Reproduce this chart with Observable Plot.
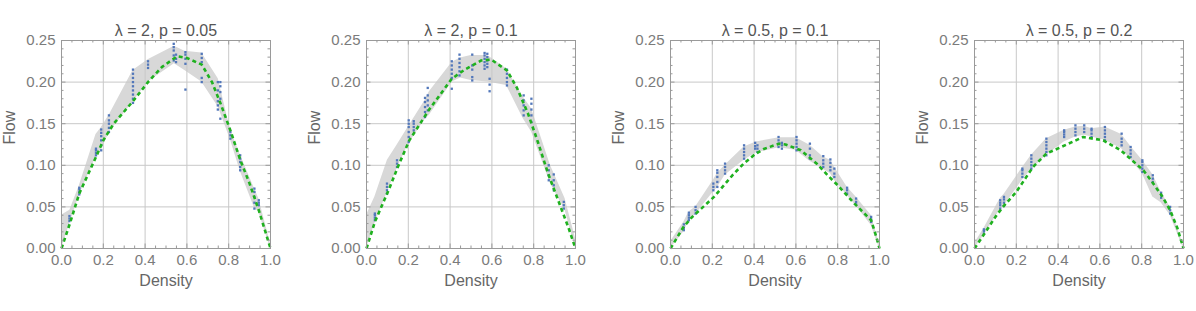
<!DOCTYPE html>
<html>
<head>
<meta charset="utf-8">
<script src="https://cdn.jsdelivr.net/npm/d3@7"></script>
<script src="https://cdn.jsdelivr.net/npm/@observablehq/plot@0.6"></script>
<style>
  html, body { margin: 0; padding: 0; background: #fff; overflow: hidden; }
  #wrap { position: relative; width: 1196px; height: 311px; }
  .panel { position: absolute; top: 0; }
  svg { overflow: visible; }
</style>
</head>
<body>
<div id="wrap"></div>
<script>
// ---------- tick values ----------
const xTicks = [0, 0.2, 0.4, 0.6, 0.8, 1.0];
const yTicks = [0, 0.05, 0.10, 0.15, 0.20, 0.25];
const xGrid = [0.2, 0.4, 0.6, 0.8];
const yGrid = [0.05, 0.10, 0.15, 0.20];
const xMinor = [0.05, 0.1, 0.15, 0.25, 0.3, 0.35, 0.45, 0.5, 0.55, 0.65, 0.7, 0.75, 0.85, 0.9, 0.95];
const yMinor = [0.01, 0.02, 0.03, 0.04, 0.06, 0.07, 0.08, 0.09, 0.11, 0.12, 0.13, 0.14, 0.16, 0.17, 0.18, 0.19, 0.21, 0.22, 0.23, 0.24];
const titles = ["λ = 2, p = 0.05", "λ = 2, p = 0.1", "λ = 0.5, p = 0.1", "λ = 0.5, p = 0.2"];
const xLabel = "Density";
const yLabel = "Flow";

// ---------- panel 1: λ = 2, p = 0.05 ----------
const band1X  = [0, 0.04, 0.085, 0.165, 0.19, 0.23, 0.342, 0.414, 0.54, 0.59, 0.671, 0.75, 0.808, 0.855, 0.923, 0.944, 1.0];
const band1Lo = [0, 0.03, 0.064, 0.11, 0.118, 0.14, 0.176, 0.2, 0.222, 0.214, 0.2, 0.17, 0.131, 0.093, 0.049, 0.044, 0];
const band1Hi = [0.04, 0.046, 0.075, 0.137, 0.145, 0.161, 0.214, 0.227, 0.243, 0.237, 0.235, 0.204, 0.143, 0.113, 0.072, 0.06, 0.006];
const pts1 = [
  [0.038, [0.033, 0.036, 0.039]],
  [0.085, [0.065, 0.068, 0.071, 0.073]],
  [0.165, [0.112, 0.115, 0.118, 0.12]],
  [0.19,  [0.118, 0.124, 0.13, 0.135, 0.139, 0.143]],
  [0.227, [0.14, 0.145, 0.15, 0.154, 0.16]],
  [0.342, [0.175, 0.18, 0.185, 0.19, 0.195, 0.2, 0.205, 0.21, 0.215]],
  [0.414, [0.217, 0.221, 0.225]],
  [0.537, [0.226, 0.232, 0.238, 0.242, 0.246]],
  [0.548, [0.224, 0.228, 0.233]],
  [0.593, [0.191, 0.222, 0.228, 0.233, 0.236]],
  [0.671, [0.2, 0.205, 0.224, 0.229, 0.234]],
  [0.748, [0.167, 0.172, 0.177, 0.19, 0.2]],
  [0.76,  [0.156, 0.18, 0.188, 0.195, 0.2]],
  [0.808, [0.132, 0.136, 0.14]],
  [0.855, [0.094, 0.098, 0.104, 0.108, 0.112]],
  [0.923, [0.048, 0.055, 0.062, 0.068, 0.072]],
  [0.944, [0.052, 0.055, 0.058]]
];
const fit1X = [0, 0.04, 0.085, 0.165, 0.2, 0.25, 0.342, 0.414, 0.48, 0.553, 0.6, 0.671, 0.72, 0.76, 0.808, 0.856, 0.9, 0.944, 1.0];
const fit1Y = [0, 0.03, 0.066, 0.11, 0.13, 0.15, 0.177, 0.2, 0.218, 0.231, 0.229, 0.221, 0.2, 0.175, 0.142, 0.106, 0.078, 0.046, 0];

// ---------- panel 2: λ = 2, p = 0.1 ----------
const band2X  = [0, 0.04, 0.1, 0.146, 0.2, 0.28, 0.3, 0.41, 0.45, 0.5, 0.58, 0.67, 0.75, 0.79, 0.88, 0.95, 1.0];
const band2Lo = [0, 0.03, 0.068, 0.096, 0.125, 0.155, 0.16, 0.2, 0.205, 0.202, 0.2, 0.196, 0.156, 0.14, 0.078, 0.046, 0];
const band2Hi = [0.04, 0.062, 0.106, 0.124, 0.146, 0.178, 0.188, 0.224, 0.229, 0.232, 0.232, 0.216, 0.182, 0.168, 0.1, 0.06, 0.012];
const pts2 = [
  [0.04,  [0.034, 0.037, 0.04, 0.042]],
  [0.098, [0.066, 0.07, 0.074, 0.078]],
  [0.146, [0.098, 0.102, 0.106]],
  [0.202, [0.128, 0.134, 0.14, 0.146, 0.15, 0.154]],
  [0.226, [0.142, 0.146, 0.15, 0.153]],
  [0.28,  [0.158, 0.164, 0.17, 0.176, 0.181]],
  [0.293, [0.166, 0.172, 0.178, 0.184, 0.193]],
  [0.408, [0.192, 0.205, 0.21, 0.215, 0.22, 0.225]],
  [0.445, [0.208, 0.213, 0.218, 0.223, 0.228, 0.233]],
  [0.506, [0.202, 0.206, 0.215, 0.22, 0.233]],
  [0.565, [0.216, 0.22, 0.224, 0.228, 0.232, 0.235]],
  [0.578, [0.218, 0.222, 0.226, 0.23, 0.234]],
  [0.589, [0.189, 0.197, 0.204]],
  [0.672, [0.196, 0.2, 0.205, 0.21, 0.215]],
  [0.752, [0.16, 0.166, 0.172, 0.178, 0.184]],
  [0.789, [0.152, 0.16, 0.167, 0.174, 0.18]],
  [0.872, [0.082, 0.088, 0.094, 0.1]],
  [0.896, [0.07, 0.076, 0.082, 0.089]],
  [0.944, [0.048, 0.052, 0.056]]
];
const fit2X = [0, 0.04, 0.109, 0.15, 0.205, 0.3, 0.408, 0.47, 0.549, 0.597, 0.672, 0.72, 0.773, 0.82, 0.869, 0.917, 0.965, 1.0];
const fit2Y = [0, 0.032, 0.072, 0.098, 0.13, 0.167, 0.204, 0.215, 0.226, 0.227, 0.214, 0.193, 0.162, 0.128, 0.09, 0.058, 0.026, 0];

// ---------- panel 3: λ = 0.5, p = 0.1 ----------
const band3X  = [0, 0.064, 0.088, 0.12, 0.205, 0.224, 0.261, 0.352, 0.41, 0.52, 0.6, 0.667, 0.731, 0.765, 0.784, 0.845, 0.888, 0.96, 1.0];
const band3Lo = [0, 0.02, 0.033, 0.041, 0.068, 0.073, 0.088, 0.106, 0.115, 0.121, 0.118, 0.105, 0.095, 0.09, 0.082, 0.064, 0.051, 0.028, 0];
const band3Hi = [0.008, 0.032, 0.044, 0.05, 0.082, 0.09, 0.1, 0.122, 0.128, 0.133, 0.133, 0.124, 0.11, 0.106, 0.098, 0.074, 0.062, 0.04, 0.005];
const pts3 = [
  [0.064, [0.022, 0.025, 0.029]],
  [0.088, [0.034, 0.037, 0.04, 0.043]],
  [0.12,  [0.042, 0.046, 0.05]],
  [0.205, [0.07, 0.074, 0.078]],
  [0.224, [0.074, 0.08, 0.086, 0.091, 0.094]],
  [0.261, [0.09, 0.094, 0.098, 0.102]],
  [0.352, [0.108, 0.112, 0.116, 0.12, 0.124]],
  [0.405, [0.12, 0.123, 0.127]],
  [0.416, [0.116, 0.12, 0.124]],
  [0.517, [0.122, 0.126, 0.13, 0.134]],
  [0.533, [0.12, 0.124, 0.127]],
  [0.603, [0.118, 0.122, 0.126, 0.13, 0.134]],
  [0.667, [0.108, 0.112, 0.12, 0.126]],
  [0.731, [0.098, 0.102, 0.106, 0.111]],
  [0.765, [0.094, 0.098, 0.103, 0.107]],
  [0.784, [0.086, 0.09, 0.096]],
  [0.845, [0.066, 0.07, 0.073]],
  [0.888, [0.053, 0.056, 0.06]],
  [0.96,  [0.032, 0.035, 0.038]]
];
const fit3X = [0, 0.06, 0.1, 0.208, 0.3, 0.35, 0.408, 0.45, 0.52, 0.55, 0.624, 0.7, 0.752, 0.8, 0.88, 0.96, 0.98, 1.0];
const fit3Y = [0, 0.025, 0.037, 0.062, 0.089, 0.102, 0.114, 0.12, 0.126, 0.125, 0.118, 0.102, 0.088, 0.076, 0.054, 0.034, 0.018, 0];

// ---------- panel 4: λ = 0.5, p = 0.2 ----------
const band4X  = [0, 0.045, 0.123, 0.141, 0.229, 0.272, 0.344, 0.429, 0.483, 0.525, 0.56, 0.624, 0.704, 0.747, 0.803, 0.853, 0.893, 0.936, 1.0];
const band4Lo = [0, 0.016, 0.047, 0.051, 0.082, 0.095, 0.112, 0.128, 0.134, 0.136, 0.134, 0.13, 0.12, 0.107, 0.09, 0.062, 0.055, 0.04, 0];
const band4Hi = [0.006, 0.024, 0.06, 0.065, 0.097, 0.112, 0.132, 0.142, 0.146, 0.147, 0.144, 0.146, 0.137, 0.123, 0.106, 0.089, 0.068, 0.05, 0.004];
const pts4 = [
  [0.045, [0.018, 0.021, 0.023]],
  [0.123, [0.048, 0.052, 0.055, 0.058]],
  [0.141, [0.051, 0.055, 0.059, 0.062]],
  [0.229, [0.086, 0.09, 0.094, 0.096]],
  [0.272, [0.096, 0.1, 0.104, 0.108, 0.112]],
  [0.344, [0.112, 0.116, 0.12, 0.124, 0.128, 0.132]],
  [0.429, [0.134, 0.137, 0.14, 0.142]],
  [0.483, [0.136, 0.14, 0.144, 0.148]],
  [0.525, [0.14, 0.144, 0.148]],
  [0.56,  [0.134, 0.138, 0.142, 0.144]],
  [0.624, [0.13, 0.134, 0.138, 0.142, 0.146]],
  [0.704, [0.124, 0.128, 0.132, 0.138]],
  [0.747, [0.11, 0.114, 0.118, 0.122]],
  [0.803, [0.092, 0.096, 0.1, 0.104, 0.106]],
  [0.853, [0.08, 0.084, 0.088]],
  [0.893, [0.061, 0.064, 0.067]],
  [0.936, [0.042, 0.046, 0.05]]
];
const fit4X = [0, 0.048, 0.1, 0.136, 0.2, 0.28, 0.344, 0.45, 0.52, 0.616, 0.7, 0.808, 0.85, 0.9, 0.936, 0.97, 1.0];
const fit4Y = [0, 0.018, 0.038, 0.05, 0.068, 0.098, 0.114, 0.126, 0.134, 0.13, 0.118, 0.094, 0.08, 0.062, 0.046, 0.025, 0];

// ---------- assemble ----------
const panels = [
  {bx: band1X, lo: band1Lo, hi: band1Hi, pts: pts1, fx: fit1X, fy: fit1Y},
  {bx: band2X, lo: band2Lo, hi: band2Hi, pts: pts2, fx: fit2X, fy: fit2Y},
  {bx: band3X, lo: band3Lo, hi: band3Hi, pts: pts3, fx: fit3X, fy: fit3Y},
  {bx: band4X, lo: band4Lo, hi: band4Hi, pts: pts4, fx: fit4X, fy: fit4Y}
];
const lefts = [0, 305, 609, 913];

const mL = 61, mR = 12, mT = 40, mB = 63, W = 282, H = 311;
const iW = W - mL - mR, iH = H - mT - mB;
const font = "'Liberation Sans', Arial, sans-serif";
const frameColor = "#9a9a9a";
const tickTextColor = "#7b7b7b";
const labelColor = "#666";

panels.forEach((p, i) => {
  const band = p.bx.map((x, j) => ({x, lo: p.lo[j], hi: p.hi[j]}));
  const dots = p.pts.flatMap(([x, ys]) => ys.map(y => ({x, y})));
  const fit = p.fx.map((x, j) => ({x, y: p.fy[j]}));
  const chart = Plot.plot({
    width: W, height: H,
    marginLeft: mL, marginRight: mR, marginTop: mT, marginBottom: mB,
    style: {fontFamily: font, background: "transparent", overflow: "visible"},
    x: {domain: [0, 1]},
    y: {domain: [0, 0.25]},
    marks: [
      Plot.areaY(band, {x: "x", y1: "lo", y2: "hi", fill: "#d8d8d8"}),
      Plot.gridX(xGrid, {stroke: "#c8c8c8", strokeOpacity: 1, strokeWidth: 1}),
      Plot.gridY(yGrid, {stroke: "#c8c8c8", strokeOpacity: 1, strokeWidth: 1}),
      Plot.dot(dots, {x: "x", y: "y", r: 1.3, symbol: "square", fill: "#5277ba", stroke: null}),
      Plot.line(fit, {x: "x", y: "y", stroke: "#1fb11f", strokeWidth: 2.6, strokeDasharray: "4,3.2", strokeLinecap: "butt"}),
      Plot.frame({stroke: frameColor, strokeWidth: 1}),
      // inward ticks on all four sides
      Plot.tickX(xMinor, {x: d => d, insetTop: iH - 2.5, stroke: frameColor}),
      Plot.tickX(xMinor, {x: d => d, insetBottom: iH - 2.5, stroke: frameColor}),
      Plot.tickX(xTicks, {x: d => d, insetTop: iH - 4.5, stroke: frameColor}),
      Plot.tickX(xTicks, {x: d => d, insetBottom: iH - 4.5, stroke: frameColor}),
      Plot.tickY(yMinor, {y: d => d, insetRight: iW - 2.5, stroke: frameColor}),
      Plot.tickY(yMinor, {y: d => d, insetLeft: iW - 2.5, stroke: frameColor}),
      Plot.tickY(yTicks, {y: d => d, insetRight: iW - 4.5, stroke: frameColor}),
      Plot.tickY(yTicks, {y: d => d, insetLeft: iW - 4.5, stroke: frameColor}),
      Plot.axisX(xTicks, {tickSize: 0, tickPadding: 6, tickFormat: d3.format(".1f"), fontSize: 15, fill: tickTextColor, label: null}),
      Plot.axisY(yTicks, {tickSize: 0, tickPadding: 6, tickFormat: d3.format(".2f"), fontSize: 15, fill: tickTextColor, label: null}),
      Plot.text([titles[i]], {frameAnchor: "top", dy: -16, fontSize: 16, fill: "#555", text: d => d}),
      Plot.text([xLabel], {frameAnchor: "bottom", dy: 37, fontSize: 16, fill: labelColor, text: d => d}),
      Plot.text([yLabel], {frameAnchor: "left", dx: -52, rotate: -90, fontSize: 16, fill: labelColor, text: d => d})
    ]
  });
  const div = document.createElement("div");
  div.className = "panel";
  div.style.left = lefts[i] + "px";
  div.appendChild(chart);
  document.getElementById("wrap").appendChild(div);
});
</script>
</body>
</html>
